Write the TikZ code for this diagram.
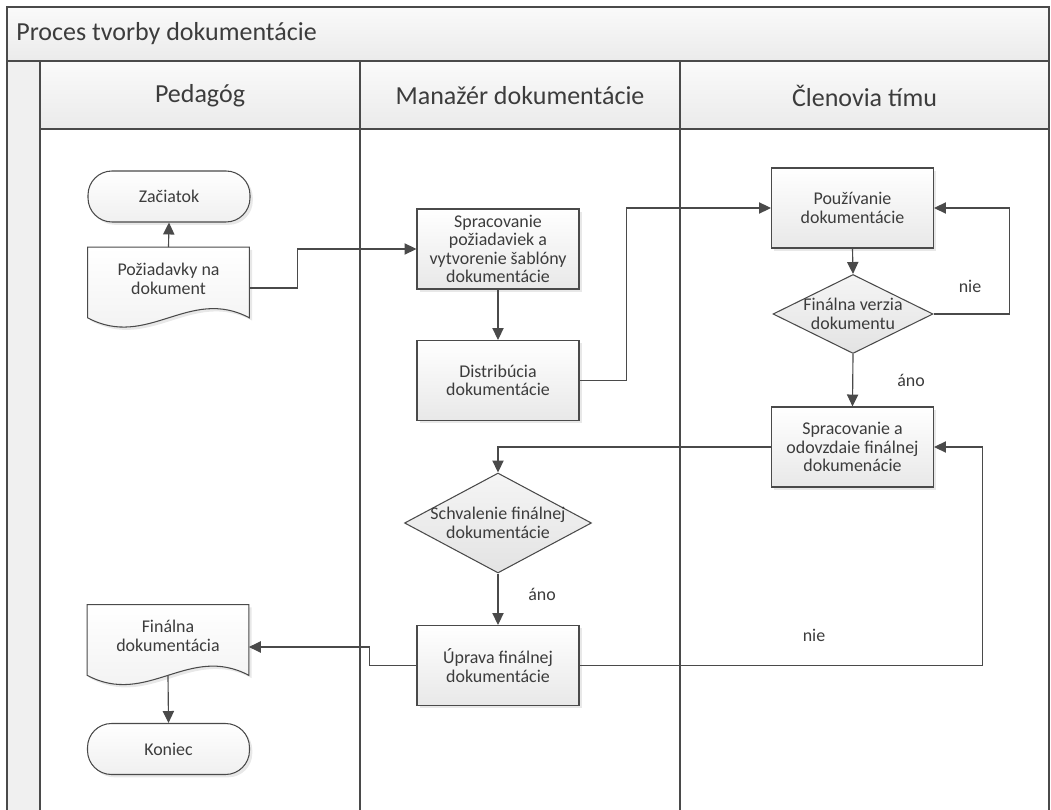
\documentclass[tikz,border=0pt]{standalone}
\usepackage{fontspec}
\setmainfont{Carlito}
\usetikzlibrary{arrows.meta,shadows,calc,shapes.geometric}
\definecolor{txt}{HTML}{3C3C3C}
\definecolor{ln}{HTML}{4A4A4A}
\newcommand\nodefont{\fontsize{10.2}{10.5}\selectfont}
\newcommand\hdrfont{\fontsize{14.8}{17}\selectfont}
\begin{document}
\begin{tikzpicture}[x=0.02cm,y=-0.02cm,
  frame/.style={draw=ln, line width=0.6pt},
  band/.style={frame, top color=gray!4, bottom color=gray!16},
  shad/.style={drop shadow={shadow xshift=1.6pt, shadow yshift=-1.6pt, opacity=0.09, fill=black}},
  proc/.style={rectangle, draw=ln, line width=0.6pt, top color=white, bottom color=gray!18,
    minimum width=3.24cm, minimum height=1.6cm, inner sep=1pt, align=center,
    font=\nodefont, text=txt, shad},
  term/.style={rectangle, rounded corners=0.48cm, draw=ln, line width=0.6pt,
    top color=white, bottom color=gray!12, minimum width=3.24cm, minimum height=1.02cm,
    inner sep=1pt, font=\nodefont, text=txt, shad},
  docbox/.style={rectangle, draw=none, minimum width=3.22cm, minimum height=1.4cm, inner sep=0pt},
  docshape/.style={draw=ln, line width=0.6pt, top color=white, bottom color=gray!12, shad},
  dia/.style={diamond, draw=ln, line width=0.6pt, top color=gray!8, bottom color=gray!22, inner sep=0pt},
  ntext/.style={align=center, font=\nodefont, text=txt, inner sep=0pt},
  lbl/.style={font=\nodefont, text=txt, inner sep=0pt},
  hdr/.style={font=\hdrfont, text=txt, inner sep=0pt},
  conn/.style={draw=ln, line width=0.65pt, -{Triangle[length=6.8pt,width=6.4pt]}}
]
\useasboundingbox (0,0) rectangle (1051,810);
\fill[white] (0,0) rectangle (1051,810);

% ---- swimlane frame ----
\path[band] (7,7) rectangle (1049,61);
\node[hdr, anchor=west] (title) at (16,34) {Proces tvorby dokumentácie};
\path[frame, fill=gray!12] (7,61) rectangle (40,812);
\path[band] (40,61) rectangle (360,129);
\path[band] (360,61) rectangle (680,129);
\path[band] (680,61) rectangle (1049,129);
\node[hdr] (h1) at (200,96) {Pedagóg};
\node[hdr] (h2) at (520,96) {Manažér dokumentácie};
\node[hdr] (h3) at (864.5,96) {Členovia tímu};
\draw[frame] (360,129) -- (360,812);
\draw[frame] (680,129) -- (680,812);
\draw[frame] (1049,129) -- (1049,812);

% ---- Pedagóg lane ----
\node[term] (zac) at (169,196.5) {Začiatok};
\node[docbox] (doc1) at (168.5,282.5) {};
\path[docshape] (doc1.north west) -- (doc1.north east) -- (doc1.south east)
  .. controls +(-60,-32) and +(60,32) .. (doc1.south west) -- cycle;
\node[ntext] (doc1t) at (168.5,279) {Požiadavky na\\dokument};

\node[docbox] (doc2) at (168,640) {};
\path[docshape] (doc2.north west) -- (doc2.north east) -- (doc2.south east)
  .. controls +(-60,-32) and +(60,32) .. (doc2.south west) -- cycle;
\node[ntext] (doc2t) at (168,636) {Finálna\\dokumentácia};
\node[term] (kon) at (168.5,749) {Koniec};

% ---- Manažér lane ----
\node[proc] (box1) at (498,249) {Spracovanie\\požiadaviek a\\vytvorenie šablóny\\dokumentácie};
\node[proc] (box2) at (498,380.5) {Distribúcia\\dokumentácie};
\node[dia, minimum width=3.74cm, minimum height=2cm] (d2) at (498,523) {};
\node[ntext] (d2t) at (498,523) {Schvalenie finálnej\\dokumentácie};
\node[proc] (box5) at (498,665.5) {Úprava finálnej\\dokumentácie};

% ---- Členovia lane ----
\node[proc] (box3) at (852.5,208) {Používanie\\dokumentácie};
\node[dia, minimum width=3.2cm, minimum height=1.58cm] (d1) at (853,314) {};
\node[ntext] (d1t) at (853,314) {Finálna verzia\\dokumentu};
\node[proc] (box4) at (852.5,447) {Spracovanie a\\odovzdaie finálnej\\dokumenácie};

% ---- labels ----
\node[lbl] (nie1) at (970,286) {nie};
\node[lbl] (ano1) at (911,380) {áno};
\node[lbl] (ano2) at (542,594) {áno};
\node[lbl] (nie2) at (814,635) {nie};

% ---- connectors ----
\draw[conn] (doc1.north) -- (zac.south);
\draw[conn] ($(doc1.east)+(0,5.5)$) -- ++(48,0) |- (box1.west);
\draw[conn] (box1.south) -- (box2.north);
\draw[conn] (box2.east) -- ++(47,0) |- (box3.west);
\draw[conn] (box3.south) -- (d1.north);
\draw[conn] (d1.east) -- ++(76,0) |- (box3.east);
\draw[conn] (d1.south) -- (box4.north);
\draw[conn] (box4.west) -| (d2.north);
\draw[conn] (d2.south) -- (box5.north);
\draw[conn] (box5.east) -- ++(403,0) |- (box4.east);
\draw[conn] (box5.west) -- ++(-47,0) |- ($(doc2.east)+(0,7)$);
\draw[conn] (doc2.south) -- (kon.north);
\end{tikzpicture}
\end{document}
